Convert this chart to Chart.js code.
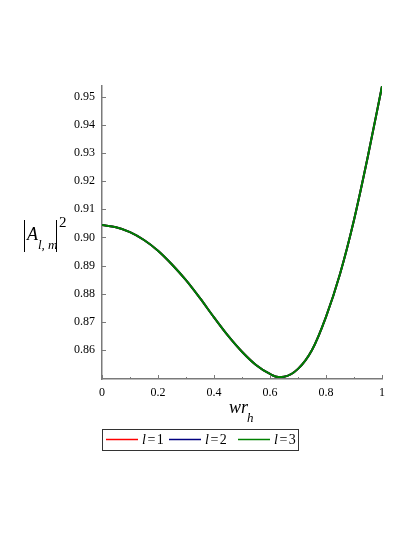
<!DOCTYPE html>
<html>
<head>
<meta charset="utf-8">
<script src="https://cdn.jsdelivr.net/npm/chart.js@4"></script>
<style>
  html, body { margin: 0; padding: 0; background: #fff; }
  #wrap { width: 415px; height: 537px; }
</style>
</head>
<body>
<div id="wrap"><canvas id="chart"></canvas></div>
<script>
// ---- data ----
const xValues = [0, 0.05, 0.1, 0.15, 0.2, 0.25, 0.3, 0.35, 0.4, 0.45, 0.5,
                 0.55, 0.6, 0.63, 0.65, 0.7, 0.75, 0.8, 0.85, 0.9, 0.95, 1];
const seriesL1 = [0.9044, 0.9036, 0.9019, 0.8991, 0.8953, 0.8904, 0.8848, 0.8784, 0.8716, 0.8651, 0.8594,
                  0.8547, 0.8515, 0.8504, 0.8505, 0.8533, 0.8600, 0.8718, 0.8870, 0.9062, 0.9290, 0.9537];
const seriesL2 = [0.9044, 0.9036, 0.9019, 0.8991, 0.8953, 0.8904, 0.8848, 0.8784, 0.8716, 0.8651, 0.8594,
                  0.8547, 0.8515, 0.8504, 0.8505, 0.8533, 0.8600, 0.8718, 0.8870, 0.9062, 0.9290, 0.9537];
const seriesL3 = [0.9044, 0.9036, 0.9019, 0.8991, 0.8953, 0.8904, 0.8848, 0.8784, 0.8716, 0.8651, 0.8594,
                  0.8547, 0.8515, 0.8504, 0.8505, 0.8533, 0.8600, 0.8718, 0.8870, 0.9062, 0.9290, 0.9537];
const seriesNames = ['1', '2', '3'];
const seriesColors = ['#ff0000', '#000080', '#008000'];
const xTicks = [0, 0.2, 0.4, 0.6, 0.8, 1];
const xMinorTicks = [0.1, 0.3, 0.5, 0.7, 0.9];
const yTicks = [0.86, 0.87, 0.88, 0.89, 0.90, 0.91, 0.92, 0.93, 0.94, 0.95];

const SERIF = '"Liberation Serif", "DejaVu Serif", serif';
const AXIS_GRAY = '#7a7a7a';

function toPoints(ys) {
    return xValues.map((x, i) => ({ x: x, y: ys[i] }));
}

// ---- inward ticks, axis titles, legend ----
const decorPlugin = {
    id: 'decor',
    afterDraw(chart) {
        const ctx = chart.ctx;
        const xs = chart.scales.x, ys = chart.scales.y;
        const area = chart.chartArea;
        ctx.save();
        ctx.strokeStyle = AXIS_GRAY;
        ctx.lineWidth = 1;
        xTicks.forEach(v => {
            const px = Math.round(xs.getPixelForValue(v)) + 0.5;
            ctx.beginPath(); ctx.moveTo(px, area.bottom); ctx.lineTo(px, area.bottom - 4); ctx.stroke();
        });
        xMinorTicks.forEach(v => {
            const px = Math.round(xs.getPixelForValue(v)) + 0.5;
            ctx.beginPath(); ctx.moveTo(px, area.bottom); ctx.lineTo(px, area.bottom - 2); ctx.stroke();
        });
        yTicks.forEach(v => {
            const py = Math.round(ys.getPixelForValue(v)) + 0.5;
            ctx.beginPath(); ctx.moveTo(area.left, py); ctx.lineTo(area.left + 4, py); ctx.stroke();
        });

        // x title: wr_h
        ctx.fillStyle = '#000';
        ctx.textBaseline = 'alphabetic';
        ctx.textAlign = 'left';
        ctx.font = 'italic 18px ' + SERIF;
        ctx.fillText('wr', 229, 413);
        ctx.font = 'italic 13px ' + SERIF;
        ctx.fillText('h', 247, 422);

        // y title: |A_{l,m}|^2
        ctx.strokeStyle = '#000';
        ctx.lineWidth = 1;
        ctx.beginPath(); ctx.moveTo(24.5, 220); ctx.lineTo(24.5, 252); ctx.stroke();
        ctx.beginPath(); ctx.moveTo(56.5, 220); ctx.lineTo(56.5, 252); ctx.stroke();
        ctx.font = 'italic 18px ' + SERIF;
        ctx.fillText('A', 27, 240);
        ctx.font = 'italic 13px ' + SERIF;
        ctx.fillText('l, m', 38, 249);
        ctx.font = '15px ' + SERIF;
        ctx.fillText('2', 59, 227);

        // legend box
        ctx.strokeStyle = '#333';
        ctx.lineWidth = 1;
        ctx.strokeRect(102.5, 429.5, 196, 21);
        const swatchX = [106, 169, 238];
        chart.data.datasets.forEach((ds, i) => {
            const sx = swatchX[i];
            ctx.strokeStyle = ds.borderColor;
            ctx.lineWidth = 1.5;
            ctx.beginPath(); ctx.moveTo(sx, 439.5); ctx.lineTo(sx + 32, 439.5); ctx.stroke();
            ctx.fillStyle = '#000';
            let tx = sx + 36;
            ctx.font = 'italic 14px ' + SERIF;
            ctx.fillText('l', tx, 444);
            tx += ctx.measureText('l').width + 1.5;
            ctx.font = '14px ' + SERIF;
            ctx.fillText('=', tx, 444);
            tx += ctx.measureText('=').width + 1.5;
            ctx.fillText(seriesNames[i], tx, 444);
        });
        ctx.restore();
    }
};

const chart = new Chart(document.getElementById('chart'), {
    type: 'line',
    data: {
        datasets: [seriesL1, seriesL2, seriesL3].map((ys, i) => ({
            label: 'l = ' + seriesNames[i],
            data: toPoints(ys),
            borderColor: seriesColors[i],
            borderWidth: 2,
            pointRadius: 0,
            cubicInterpolationMode: 'monotone',
            order: 3 - i,
            fill: false
        }))
    },
    options: {
        responsive: true,
        maintainAspectRatio: false,
        animation: false,
        layout: { padding: { left: 0, top: 86, right: 33, bottom: 0 } },
        plugins: { legend: { display: false }, tooltip: { enabled: false } },
        scales: {
            x: {
                type: 'linear',
                min: 0, max: 1,
                afterFit: s => { s.height = 158; },
                afterBuildTicks: s => { s.ticks = xTicks.map(v => ({ value: v })); },
                grid: { display: false, drawTicks: false },
                border: { display: true, color: AXIS_GRAY, width: 1.5 },
                ticks: {
                    color: '#000', padding: 7,
                    font: { family: SERIF, size: 12 },
                    maxRotation: 0,
                    callback: v => String(v)
                }
            },
            y: {
                type: 'linear',
                min: 0.8497, max: 0.9538,
                afterFit: s => { s.width = 102; },
                afterBuildTicks: s => { s.ticks = yTicks.map(v => ({ value: v })); },
                grid: { display: false, drawTicks: false },
                border: { display: true, color: AXIS_GRAY, width: 1.5 },
                ticks: {
                    color: '#000', padding: 7,
                    font: { family: SERIF, size: 12 },
                    callback: v => v.toFixed(2)
                }
            }
        }
    },
    plugins: [decorPlugin]
});
</script>
</body>
</html>
